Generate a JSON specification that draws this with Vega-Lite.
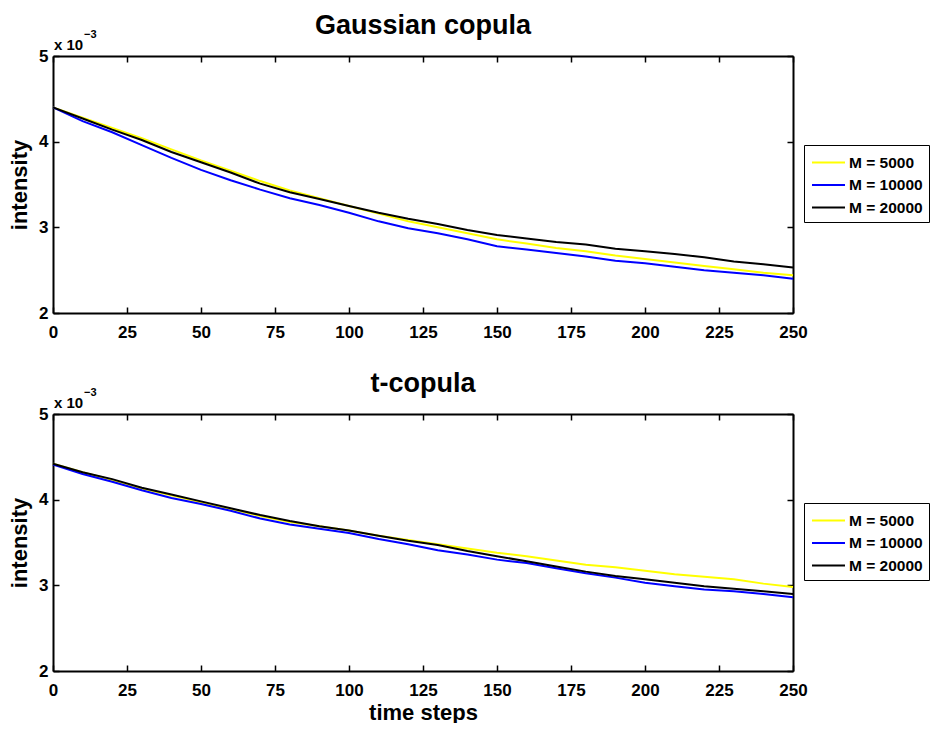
{
  "$schema": "https://vega.github.io/schema/vega-lite/v6.json",
  "padding": {"left": 8, "top": 12, "right": 0, "bottom": 0},
  "background": "white",
  "datasets": {
    "gauss": [
      {"t":0,"M":"M = 5000","v":0.00440},{"t":10,"M":"M = 5000","v":0.00428},{"t":20,"M":"M = 5000","v":0.00416},{"t":30,"M":"M = 5000","v":0.00404},{"t":40,"M":"M = 5000","v":0.00391},{"t":50,"M":"M = 5000","v":0.00378},{"t":60,"M":"M = 5000","v":0.00366},{"t":70,"M":"M = 5000","v":0.00354},{"t":80,"M":"M = 5000","v":0.00343},{"t":90,"M":"M = 5000","v":0.00334},{"t":100,"M":"M = 5000","v":0.00325},{"t":110,"M":"M = 5000","v":0.00316},{"t":120,"M":"M = 5000","v":0.00307},{"t":130,"M":"M = 5000","v":0.00300},{"t":140,"M":"M = 5000","v":0.00293},{"t":150,"M":"M = 5000","v":0.00286},{"t":160,"M":"M = 5000","v":0.00281},{"t":170,"M":"M = 5000","v":0.00276},{"t":180,"M":"M = 5000","v":0.00272},{"t":190,"M":"M = 5000","v":0.00267},{"t":200,"M":"M = 5000","v":0.00263},{"t":210,"M":"M = 5000","v":0.00259},{"t":220,"M":"M = 5000","v":0.00255},{"t":230,"M":"M = 5000","v":0.00251},{"t":240,"M":"M = 5000","v":0.00247},{"t":250,"M":"M = 5000","v":0.00244},
      {"t":0,"M":"M = 10000","v":0.00440},{"t":10,"M":"M = 10000","v":0.00424},{"t":20,"M":"M = 10000","v":0.00411},{"t":30,"M":"M = 10000","v":0.00396},{"t":40,"M":"M = 10000","v":0.00381},{"t":50,"M":"M = 10000","v":0.00367},{"t":60,"M":"M = 10000","v":0.00355},{"t":70,"M":"M = 10000","v":0.00344},{"t":80,"M":"M = 10000","v":0.00334},{"t":90,"M":"M = 10000","v":0.00326},{"t":100,"M":"M = 10000","v":0.00317},{"t":110,"M":"M = 10000","v":0.00307},{"t":120,"M":"M = 10000","v":0.00299},{"t":130,"M":"M = 10000","v":0.00293},{"t":140,"M":"M = 10000","v":0.00286},{"t":150,"M":"M = 10000","v":0.00278},{"t":160,"M":"M = 10000","v":0.00274},{"t":170,"M":"M = 10000","v":0.00270},{"t":180,"M":"M = 10000","v":0.00266},{"t":190,"M":"M = 10000","v":0.00261},{"t":200,"M":"M = 10000","v":0.00258},{"t":210,"M":"M = 10000","v":0.00254},{"t":220,"M":"M = 10000","v":0.00250},{"t":230,"M":"M = 10000","v":0.00247},{"t":240,"M":"M = 10000","v":0.00244},{"t":250,"M":"M = 10000","v":0.00240},
      {"t":0,"M":"M = 20000","v":0.00440},{"t":10,"M":"M = 20000","v":0.00427},{"t":20,"M":"M = 20000","v":0.00414},{"t":30,"M":"M = 20000","v":0.00402},{"t":40,"M":"M = 20000","v":0.00388},{"t":50,"M":"M = 20000","v":0.00376},{"t":60,"M":"M = 20000","v":0.00364},{"t":70,"M":"M = 20000","v":0.00351},{"t":80,"M":"M = 20000","v":0.00341},{"t":90,"M":"M = 20000","v":0.00333},{"t":100,"M":"M = 20000","v":0.00325},{"t":110,"M":"M = 20000","v":0.00317},{"t":120,"M":"M = 20000","v":0.00310},{"t":130,"M":"M = 20000","v":0.00304},{"t":140,"M":"M = 20000","v":0.00297},{"t":150,"M":"M = 20000","v":0.00291},{"t":160,"M":"M = 20000","v":0.00287},{"t":170,"M":"M = 20000","v":0.00283},{"t":180,"M":"M = 20000","v":0.00280},{"t":190,"M":"M = 20000","v":0.00275},{"t":200,"M":"M = 20000","v":0.00272},{"t":210,"M":"M = 20000","v":0.00269},{"t":220,"M":"M = 20000","v":0.00265},{"t":230,"M":"M = 20000","v":0.00260},{"t":240,"M":"M = 20000","v":0.00257},{"t":250,"M":"M = 20000","v":0.00253}
    ],
    "tcop": [
      {"t":0,"M":"M = 5000","v":0.00442},{"t":10,"M":"M = 5000","v":0.00432},{"t":20,"M":"M = 5000","v":0.00423},{"t":30,"M":"M = 5000","v":0.00413},{"t":40,"M":"M = 5000","v":0.00405},{"t":50,"M":"M = 5000","v":0.00397},{"t":60,"M":"M = 5000","v":0.00389},{"t":70,"M":"M = 5000","v":0.00381},{"t":80,"M":"M = 5000","v":0.00374},{"t":90,"M":"M = 5000","v":0.00369},{"t":100,"M":"M = 5000","v":0.00364},{"t":110,"M":"M = 5000","v":0.00358},{"t":120,"M":"M = 5000","v":0.00353},{"t":130,"M":"M = 5000","v":0.00348},{"t":140,"M":"M = 5000","v":0.00343},{"t":150,"M":"M = 5000","v":0.00338},{"t":160,"M":"M = 5000","v":0.00334},{"t":170,"M":"M = 5000","v":0.00329},{"t":180,"M":"M = 5000","v":0.00324},{"t":190,"M":"M = 5000","v":0.00321},{"t":200,"M":"M = 5000","v":0.00317},{"t":210,"M":"M = 5000","v":0.00313},{"t":220,"M":"M = 5000","v":0.00310},{"t":230,"M":"M = 5000","v":0.00307},{"t":240,"M":"M = 5000","v":0.00302},{"t":250,"M":"M = 5000","v":0.00298},
      {"t":0,"M":"M = 10000","v":0.00441},{"t":10,"M":"M = 10000","v":0.00430},{"t":20,"M":"M = 10000","v":0.00421},{"t":30,"M":"M = 10000","v":0.00411},{"t":40,"M":"M = 10000","v":0.00402},{"t":50,"M":"M = 10000","v":0.00395},{"t":60,"M":"M = 10000","v":0.00387},{"t":70,"M":"M = 10000","v":0.00378},{"t":80,"M":"M = 10000","v":0.00371},{"t":90,"M":"M = 10000","v":0.00366},{"t":100,"M":"M = 10000","v":0.00361},{"t":110,"M":"M = 10000","v":0.00354},{"t":120,"M":"M = 10000","v":0.00348},{"t":130,"M":"M = 10000","v":0.00341},{"t":140,"M":"M = 10000","v":0.00336},{"t":150,"M":"M = 10000","v":0.00330},{"t":160,"M":"M = 10000","v":0.00326},{"t":170,"M":"M = 10000","v":0.00320},{"t":180,"M":"M = 10000","v":0.00314},{"t":190,"M":"M = 10000","v":0.00309},{"t":200,"M":"M = 10000","v":0.00303},{"t":210,"M":"M = 10000","v":0.00299},{"t":220,"M":"M = 10000","v":0.00295},{"t":230,"M":"M = 10000","v":0.00293},{"t":240,"M":"M = 10000","v":0.00290},{"t":250,"M":"M = 10000","v":0.00286},
      {"t":0,"M":"M = 20000","v":0.00442},{"t":10,"M":"M = 20000","v":0.00432},{"t":20,"M":"M = 20000","v":0.00424},{"t":30,"M":"M = 20000","v":0.00414},{"t":40,"M":"M = 20000","v":0.00406},{"t":50,"M":"M = 20000","v":0.00398},{"t":60,"M":"M = 20000","v":0.00390},{"t":70,"M":"M = 20000","v":0.00382},{"t":80,"M":"M = 20000","v":0.00375},{"t":90,"M":"M = 20000","v":0.00369},{"t":100,"M":"M = 20000","v":0.00364},{"t":110,"M":"M = 20000","v":0.00358},{"t":120,"M":"M = 20000","v":0.00352},{"t":130,"M":"M = 20000","v":0.00347},{"t":140,"M":"M = 20000","v":0.00340},{"t":150,"M":"M = 20000","v":0.00334},{"t":160,"M":"M = 20000","v":0.00328},{"t":170,"M":"M = 20000","v":0.00322},{"t":180,"M":"M = 20000","v":0.00316},{"t":190,"M":"M = 20000","v":0.00311},{"t":200,"M":"M = 20000","v":0.00307},{"t":210,"M":"M = 20000","v":0.00303},{"t":220,"M":"M = 20000","v":0.00299},{"t":230,"M":"M = 20000","v":0.00296},{"t":240,"M":"M = 20000","v":0.00293},{"t":250,"M":"M = 20000","v":0.00290}
    ],
    "expo": [{"t":0,"v":0.005,"base":"x 10","sup":"−3"}]
  },
  "config": {
    "font": "Liberation Sans",
    "view": {"stroke": null},
    "axis": {"grid": false, "domainColor": "black", "domainWidth": 2, "tickColor": "black", "tickSize": -6, "tickWidth": 1.5, "labelFont": "Liberation Sans", "labelFontWeight": "bold", "labelFontSize": 17, "labelColor": "black", "titleFont": "Liberation Sans", "titleFontSize": 22, "titleFontWeight": "bold", "titleColor": "black", "labelOverlap": false, "labelFlush": false},
    "title": {"font": "Liberation Sans", "fontSize": 27, "fontWeight": "bold", "color": "black", "offset": -11, "baseline": "alphabetic", "frame": "group"},
    "legend": {"orient": "none", "legendX": 751, "legendY": 89, "strokeColor": "black", "fillColor": "white", "padding": 6, "symbolType": "M-1.571,0H1.571", "symbolSize": 441, "symbolOffset": 7, "symbolStrokeWidth": 2, "labelFont": "Liberation Sans", "labelFontSize": 15.5, "labelFontWeight": "bold", "labelColor": "black", "labelOffset": 9, "rowPadding": 2.5}
  },
  "bounds": "flush",
  "spacing": 101,
  "resolve": {"legend": {"color": "independent"}},
  "vconcat": [
    {
      "width": 740, "height": 257,
      "title": {"text": "Gaussian copula"},
      "data": {"name": "gauss"},
      "resolve": {"axis": {"x": "independent", "y": "independent"}},
      "layer": [
        {
          "mark": {"type": "line", "strokeWidth": 2},
          "encoding": {
            "x": {"field": "t", "type": "quantitative", "scale": {"domain": [0, 250], "nice": false}, "axis": {"values": [0,25,50,75,100,125,150,175,200,225,250], "title": null, "labelPadding": 17}},
            "y": {"field": "v", "type": "quantitative", "scale": {"domain": [0.002, 0.005], "nice": false, "zero": false}, "axis": {"values": [0.002,0.003,0.004,0.005], "labelExpr": "format(datum.value*1000,'d')", "title": "intensity", "labelPadding": 11, "titlePadding": 7}},
            "color": {"field": "M", "type": "nominal", "scale": {"domain": ["M = 5000","M = 10000","M = 20000"], "range": ["#ffff00","#0000ff","#000000"]}, "legend": {"title": null}}
          }
        },
        {
          "mark": {"type": "point", "opacity": 0},
          "encoding": {
            "x": {"field": "t", "type": "quantitative", "axis": {"orient": "top", "labels": false, "values": [0,25,50,75,100,125,150,175,200,225,250], "title": null}},
            "y": {"field": "v", "type": "quantitative", "axis": {"orient": "right", "labels": false, "values": [0.002,0.003,0.004,0.005], "title": null}}
          }
        },
        {
          "data": {"name": "expo"},
          "mark": {"type": "text", "align": "left", "baseline": "alphabetic", "dx": 1, "dy": -6, "fontSize": 15, "fontWeight": "bold", "color": "black"},
          "encoding": {
            "x": {"field": "t", "type": "quantitative", "axis": null},
            "y": {"field": "v", "type": "quantitative", "axis": null},
            "text": {"field": "base"}
          }
        },
        {
          "data": {"name": "expo"},
          "mark": {"type": "text", "align": "left", "baseline": "alphabetic", "dx": 31, "dy": -18, "fontSize": 11, "fontWeight": "bold", "color": "black"},
          "encoding": {
            "x": {"field": "t", "type": "quantitative", "axis": null},
            "y": {"field": "v", "type": "quantitative", "axis": null},
            "text": {"field": "sup"}
          }
        }
      ]
    },
    {
      "width": 740, "height": 257,
      "title": {"text": "t-copula"},
      "data": {"name": "tcop"},
      "resolve": {"axis": {"x": "independent", "y": "independent"}},
      "layer": [
        {
          "mark": {"type": "line", "strokeWidth": 2},
          "encoding": {
            "x": {"field": "t", "type": "quantitative", "scale": {"domain": [0, 250], "nice": false}, "axis": {"values": [0,25,50,75,100,125,150,175,200,225,250], "title": "time steps", "labelPadding": 17, "titlePadding": 4}},
            "y": {"field": "v", "type": "quantitative", "scale": {"domain": [0.002, 0.005], "nice": false, "zero": false}, "axis": {"values": [0.002,0.003,0.004,0.005], "labelExpr": "format(datum.value*1000,'d')", "title": "intensity", "labelPadding": 11, "titlePadding": 7}},
            "color": {"field": "M", "type": "nominal", "scale": {"domain": ["M = 5000","M = 10000","M = 20000"], "range": ["#ffff00","#0000ff","#000000"]}, "legend": {"title": null}}
          }
        },
        {
          "mark": {"type": "point", "opacity": 0},
          "encoding": {
            "x": {"field": "t", "type": "quantitative", "axis": {"orient": "top", "labels": false, "values": [0,25,50,75,100,125,150,175,200,225,250], "title": null}},
            "y": {"field": "v", "type": "quantitative", "axis": {"orient": "right", "labels": false, "values": [0.002,0.003,0.004,0.005], "title": null}}
          }
        },
        {
          "data": {"name": "expo"},
          "mark": {"type": "text", "align": "left", "baseline": "alphabetic", "dx": 1, "dy": -6, "fontSize": 15, "fontWeight": "bold", "color": "black"},
          "encoding": {
            "x": {"field": "t", "type": "quantitative", "axis": null},
            "y": {"field": "v", "type": "quantitative", "axis": null},
            "text": {"field": "base"}
          }
        },
        {
          "data": {"name": "expo"},
          "mark": {"type": "text", "align": "left", "baseline": "alphabetic", "dx": 31, "dy": -18, "fontSize": 11, "fontWeight": "bold", "color": "black"},
          "encoding": {
            "x": {"field": "t", "type": "quantitative", "axis": null},
            "y": {"field": "v", "type": "quantitative", "axis": null},
            "text": {"field": "sup"}
          }
        }
      ]
    }
  ]
}
